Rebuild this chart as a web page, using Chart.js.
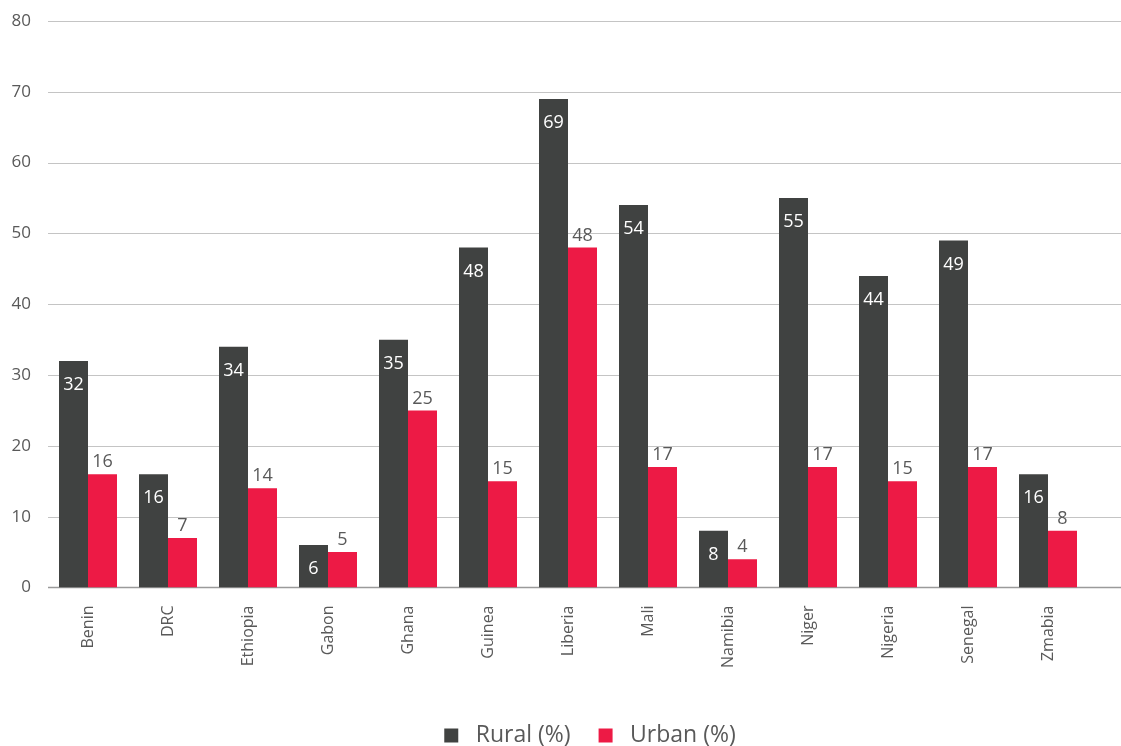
<!DOCTYPE html>
<html>
<head>
<meta charset="utf-8">
<script src="https://cdn.jsdelivr.net/npm/chart.js@4/dist/chart.umd.min.js"></script>
<style>
  html, body { margin: 0; padding: 0; background: #fff; }
  #wrap { width: 1121px; height: 746px; }
</style>
</head>
<body>
<div id="wrap"><canvas id="accessChart"></canvas></div>
<script>
const countries = ['Benin', 'DRC', 'Ethiopia', 'Gabon', 'Ghana', 'Guinea', 'Liberia',
    'Mali', 'Namibia', 'Niger', 'Nigeria', 'Senegal', 'Zmabia'];
const rural = [32, 16, 34, 6, 35, 48, 69, 54, 8, 55, 44, 49, 16];
const urban = [16, 7, 14, 5, 25, 15, 48, 17, 4, 17, 15, 17, 8];

const ruralColor = '#404241';
const urbanColor = '#ED1A45';
const textColor = '#595959';
const fontFamily = '"Open Sans", "Noto Sans", sans-serif';

// horizontal grid lines run on to the right edge of the canvas
const gridPlugin = {
    id: 'fullGrid',
    beforeDatasetsDraw(chart) {
        const ctx = chart.ctx;
        const y = chart.scales.y;
        ctx.save();
        y.ticks.forEach(function (tick) {
            const py = Math.round(y.getPixelForValue(tick.value)) + 0.5;
            ctx.strokeStyle = tick.value === 0 ? '#9a9a9a' : '#c4c4c4';
            ctx.lineWidth = tick.value === 0 ? 1.5 : 1.2;
            ctx.beginPath();
            ctx.moveTo(chart.chartArea.left, py);
            ctx.lineTo(chart.width, py);
            ctx.stroke();
        });
        ctx.restore();
    }
};

// legend sits near the bottom edge, centred under the plot
const legendPlugin = {
    id: 'legendPlace',
    afterLayout(chart) {
        const lg = chart.legend;
        const h = lg.bottom - lg.top;
        lg.top = chart.height - 50;
        lg.bottom = lg.top + h;
        const shift = 590 - (lg.left + lg.right) / 2;
        lg.left += shift;
        lg.right += shift;
    }
};

// value labels: inside the top of rural bars, above urban bars
const valuePlugin = {
    id: 'values',
    afterDatasetsDraw(chart) {
        const ctx = chart.ctx;
        ctx.save();
        ctx.font = '500 18px ' + fontFamily;
        ctx.textAlign = 'center';
        chart.data.datasets.forEach(function (ds, i) {
            const meta = chart.getDatasetMeta(i);
            meta.data.forEach(function (bar, j) {
                const v = ds.data[j];
                if (i === 0) {
                    ctx.fillStyle = '#ffffff';
                    ctx.textBaseline = 'top';
                    ctx.fillText(v, bar.x, bar.y + 15);
                } else {
                    ctx.fillStyle = textColor;
                    ctx.textBaseline = 'bottom';
                    ctx.fillText(v, bar.x, bar.y - 3);
                }
            });
        });
        ctx.restore();
    }
};

new Chart(document.getElementById('accessChart'), {
    type: 'bar',
    data: {
        labels: countries,
        datasets: [{
            label: ' Rural (%)',
            data: rural,
            backgroundColor: ruralColor,
            categoryPercentage: 0.725,
            barPercentage: 1.0
        }, {
            label: ' Urban (%)',
            data: urban,
            backgroundColor: urbanColor,
            categoryPercentage: 0.725,
            barPercentage: 1.0
        }]
    },
    options: {
        responsive: true,
        maintainAspectRatio: false,
        animation: false,
        layout: {
            padding: { top: 21, left: 0, right: 33, bottom: 7 }
        },
        plugins: {
            legend: {
                position: 'bottom',
                labels: {
                    boxWidth: 14,
                    boxHeight: 14,
                    padding: 28,
                    color: textColor,
                    font: { family: fontFamily, size: 23 }
                }
            },
            tooltip: { enabled: false }
        },
        scales: {
            x: {
                grid: { display: false },
                border: { display: false },
                ticks: {
                    color: textColor,
                    maxRotation: 90,
                    minRotation: 90,
                    padding: 10,
                    font: { family: fontFamily, size: 16 }
                }
            },
            y: {
                min: 0,
                max: 80,
                grid: { display: false, drawTicks: false },
                border: { display: false },
                afterFit: function (scale) {
                    scale.width = 48;
                    scale.paddingTop = 0;
                    scale.paddingBottom = 0;
                },
                ticks: {
                    stepSize: 10,
                    color: textColor,
                    padding: 17,
                    font: { family: fontFamily, size: 17 }
                }
            }
        }
    },
    plugins: [gridPlugin, valuePlugin, legendPlugin]
});
</script>
</body>
</html>
